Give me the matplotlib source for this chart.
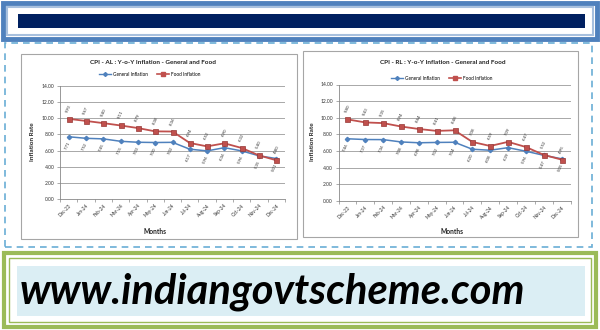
import matplotlib
matplotlib.use("Agg")
import matplotlib.pyplot as plt
from matplotlib.patches import Rectangle
from matplotlib.lines import Line2D

months = ["Dec-23", "Jan-24", "Feb-24", "Mar-24", "Apr-24", "May-24", "Jun-24",
          "Jul-24", "Aug-24", "Sep-24", "Oct-24", "Nov-24", "Dec-24"]

al_general = [7.71, 7.52, 7.45, 7.15, 7.03, 7.00, 7.02, 6.17, 5.96, 6.36, 5.96, 5.35, 5.01]
al_food = [9.93, 9.67, 9.40, 9.11, 8.79, 8.38, 8.36, 6.94, 6.52, 6.90, 6.32, 5.40, 4.80]

rl_general = [7.46, 7.37, 7.36, 7.08, 6.98, 7.02, 7.04, 6.20, 6.08, 6.39, 5.96, 5.47, 5.05]
rl_food = [9.80, 9.43, 9.35, 8.94, 8.64, 8.41, 8.48, 7.08, 6.59, 7.09, 6.47, 5.52, 4.95]

yticks = [0, 2, 4, 6, 8, 10, 12, 14]

W, H = 600, 330
fig = plt.figure(figsize=(6, 3.3), dpi=100)
fig.patch.set_facecolor("white")
FONT = ["Lato", "DejaVu Sans"]


def fx(x):
    return x / W


def fy(y):
    return 1 - y / H


def rect(x0, y0, x1, y1, **kw):
    r = Rectangle((fx(x0), fy(y1)), fx(x1) - fx(x0), fy(y0) - fy(y1),
                  transform=fig.transFigure, zorder=0.5, **kw)
    fig.add_artist(r)
    return r


# Top banner
rect(3, 3, 597, 39, facecolor="white", edgecolor="#4f81bd", linewidth=3.5)
rect(7, 7, 593, 35, facecolor="white", edgecolor="#a7c0de", linewidth=1.5)
rect(18, 14, 585, 28, facecolor="#002060", edgecolor="none")

# Dashed middle frame
rect(5, 43, 592, 247, facecolor="none", edgecolor="#6aaed6", linewidth=1.2,
     linestyle=(0, (4, 3)))

# Chart panels
rect(21, 54, 297, 239, facecolor="white", edgecolor="#a6a6a6", linewidth=0.8)
rect(303, 51, 578, 237, facecolor="white", edgecolor="#a6a6a6", linewidth=0.8)

# Bottom green frame
rect(4, 253, 596, 327, facecolor="white", edgecolor="#9bbb59", linewidth=3)
rect(9, 258, 591, 322, facecolor="white", edgecolor="#9bbb59", linewidth=1)
rect(17, 266, 585, 316, facecolor="#dbeef4", edgecolor="none")
fig.text(fx(20), fy(292), "www.indiangovtscheme.com", fontsize=30,
         fontweight="bold", fontstyle="italic", family=FONT, color="black",
         ha="left", va="center", zorder=2)

BLUE = "#4f81bd"
RED = "#c0504d"


def make_chart(box, general, food, title, title_xy, legend_xy, ylabel_xy, xlabel_xy):
    x0, ybot, x1, ytop = box
    ax = fig.add_axes([fx(x0), fy(ybot), fx(x1) - fx(x0), fy(ytop) - fy(ybot)])
    ax.set_zorder(3)
    ax.set_facecolor("none")
    xs = list(range(len(months)))
    ax.plot(xs, general, color=BLUE, linewidth=1.1, marker="D", markersize=2.2,
            markerfacecolor=BLUE, markeredgecolor=BLUE)
    ax.plot(xs, food, color=RED, linewidth=1.3, marker="s", markersize=3.6,
            markerfacecolor=RED, markeredgecolor="#953735", markeredgewidth=0.5)
    for i in xs:
        ax.annotate(f"{food[i]:.2f}", (i, food[i]), xytext=(0, 4),
                    textcoords="offset points", fontsize=3.2, rotation=65,
                    ha="center", va="bottom", family=FONT, color="#333333")
        ax.annotate(f"{general[i]:.2f}", (i, general[i]), xytext=(-1, -3),
                    textcoords="offset points", fontsize=3.2, rotation=65,
                    ha="center", va="top", family=FONT, color="#333333")
    ax.set_xlim(-0.5, len(months) - 0.5)
    ax.set_ylim(0, 14)
    ax.set_yticks(yticks)
    ax.set_yticklabels([f"{v:.2f}" for v in yticks], fontsize=3.6, family=FONT,
                       color="#333333")
    ax.set_xticks(xs)
    ax.set_xticklabels(months, fontsize=3.4, rotation=45, ha="right",
                       rotation_mode="anchor", family=FONT, color="#333333")
    ax.set_xticks([i - 0.5 for i in range(len(months) + 1)], minor=True)
    ax.tick_params(axis="x", which="major", length=0, pad=3)
    ax.tick_params(axis="x", which="minor", length=2, width=0.5, color="#888888")
    ax.tick_params(axis="y", length=2, width=0.5, color="#888888", pad=2)
    ax.grid(axis="y", color="#9a9a9a", linewidth=0.6)
    ax.set_axisbelow(True)
    for s in ["top", "right"]:
        ax.spines[s].set_visible(False)
    ax.spines["left"].set_color("#888888")
    ax.spines["bottom"].set_color("#888888")
    ax.spines["left"].set_linewidth(0.6)
    ax.spines["bottom"].set_linewidth(0.6)

    fig.text(fx(title_xy[0]), fy(title_xy[1]), title, fontsize=4.6,
             fontweight="bold", family=FONT, ha="center", va="center",
             color="#222222", zorder=4)
    handles = [
        Line2D([0], [0], color=BLUE, linewidth=1.0, marker="D", markersize=2),
        Line2D([0], [0], color=RED, linewidth=1.2, marker="s", markersize=3.2),
    ]
    leg = fig.legend(handles, ["General Inflation", "Food Inflation"],
                     loc="center", bbox_to_anchor=(fx(legend_xy[0]), fy(legend_xy[1])),
                     ncol=2, frameon=False, handlelength=2.4,
                     columnspacing=2.0, handletextpad=0.5,
                     prop={"family": FONT, "size": 3.4})
    leg.set_zorder(4)
    fig.text(fx(ylabel_xy[0]), fy(ylabel_xy[1]), "Inflation Rate", fontsize=4.6,
             fontweight="bold", family=FONT, rotation=90, ha="center", va="center",
             color="#222222", zorder=4)
    fig.text(fx(xlabel_xy[0]), fy(xlabel_xy[1]), "Months", fontsize=4.8,
             fontweight="bold", family=FONT, ha="center", va="center",
             color="#222222", zorder=4)
    return ax


make_chart((60, 199, 285, 86), al_general, al_food,
           "CPI - AL : Y-o-Y Inflation - General and Food",
           (153, 63), (150, 74), (33, 142), (155, 231))
make_chart((338.5, 200.7, 570.5, 84.5), rl_general, rl_food,
           "CPI - RL : Y-o-Y Inflation - General and Food",
           (443, 63), (442, 78), (312, 142), (452, 232))

fig.savefig("out.png", dpi=100, facecolor="white")
